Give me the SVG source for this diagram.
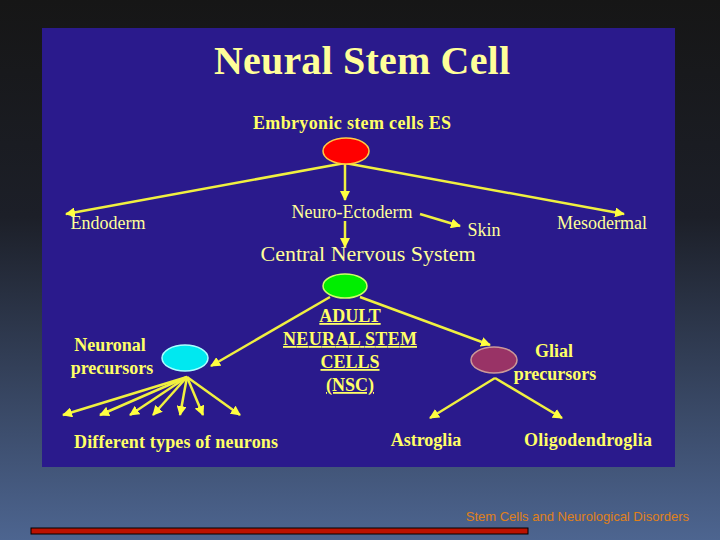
<svg xmlns="http://www.w3.org/2000/svg" width="720" height="540" viewBox="0 0 720 540">
<defs>
<linearGradient id="bg" x1="0" y1="0" x2="0" y2="1"><stop offset="0" stop-color="#161616"/><stop offset="0.4" stop-color="#1c1f28"/><stop offset="1" stop-color="#4d6590"/></linearGradient>
<marker id="ah" viewBox="0 0 10 10" refX="9" refY="5" markerWidth="4" markerHeight="4" orient="auto"><path d="M0,0L10,5L0,10z" fill="#ffff40"/></marker>
</defs>
<style>
.t{font-family:"Liberation Serif",serif;fill:#ffff66;font-weight:bold;font-size:18px}
.r{font-family:"Liberation Serif",serif;fill:#ffff99;font-size:18px}
.c line{stroke:#f0f040;stroke-width:2.5;marker-end:url(#ah)}
</style>
<rect width="720" height="540" fill="url(#bg)"/>
<rect x="42" y="28" width="633" height="439" fill="#2a1a8c"/>
<text x="362" y="74" text-anchor="middle" font-family="Liberation Serif,serif" font-weight="bold" font-size="40" fill="#ffff99" textLength="296">Neural Stem Cell</text>
<g class="c" id="connectors">
<line x1="345" y1="163" x2="66" y2="214"/>
<line x1="345" y1="163" x2="624" y2="214"/>
<line x1="345" y1="164" x2="345" y2="200"/>
<line x1="420" y1="214" x2="460" y2="226"/>
<line x1="345" y1="221" x2="345" y2="247"/>
<line x1="330" y1="297" x2="211" y2="366"/>
<line x1="360" y1="297" x2="490" y2="345"/>
<line x1="187" y1="377" x2="63" y2="415"/>
<line x1="187" y1="377" x2="100" y2="415"/>
<line x1="187" y1="377" x2="130" y2="415"/>
<line x1="187" y1="377" x2="153" y2="415"/>
<line x1="187" y1="377" x2="180" y2="415"/>
<line x1="187" y1="377" x2="203" y2="415"/>
<line x1="187" y1="377" x2="240" y2="415"/>
<line x1="495" y1="378" x2="430" y2="418"/>
<line x1="495" y1="378" x2="562" y2="418"/>
</g>
<g id="es"><text class="t" x="352" y="129" text-anchor="middle" textLength="198">Embryonic stem cells  ES</text><ellipse cx="346" cy="151" rx="23" ry="13" fill="#ff0000" stroke="#ffcc44" stroke-width="1.5"/></g>
<g id="endoderm"><text class="r" x="108" y="229" text-anchor="middle">Endoderm</text></g>
<g id="meso"><text class="r" x="602" y="229" text-anchor="middle">Mesodermal</text></g>
<g id="neuroecto"><text class="r" x="352" y="218" text-anchor="middle">Neuro-Ectoderm</text></g>
<g id="skin"><text class="r" x="484" y="236" text-anchor="middle">Skin</text></g>
<g id="cns"><text x="368" y="261" text-anchor="middle" font-family="Liberation Serif,serif" font-size="22" fill="#ffff99">Central  Nervous System</text></g>
<g id="nsc"><ellipse cx="345" cy="286" rx="22" ry="12" fill="#00ee00" stroke="#ccff66" stroke-width="1.5"/>
<g class="t" text-anchor="middle" text-decoration="underline"><text class="t" x="350" y="322">ADULT</text><text class="t" x="350" y="345" textLength="134">NEURAL STEM</text><text class="t" x="350" y="368">CELLS</text><text class="t" x="350" y="391">(NSC)</text></g></g>
<g id="neuronal"><ellipse cx="185" cy="358" rx="23" ry="13" fill="#00e8f0" stroke="#aaffff" stroke-width="1.5"/><text class="t" x="110" y="351" text-anchor="middle">Neuronal</text><text class="t" x="112" y="374" text-anchor="middle">precursors</text></g>
<g id="glial"><ellipse cx="494" cy="360" rx="23" ry="13" fill="#993366" stroke="#cc9999" stroke-width="1.5"/><text class="t" x="554" y="357" text-anchor="middle">Glial</text><text class="t" x="555" y="380" text-anchor="middle">precursors</text></g>
<g id="neurons"><text class="t" x="176" y="448" text-anchor="middle" textLength="204">Different types of neurons</text></g>
<g id="astro"><text class="t" x="426" y="446" text-anchor="middle">Astroglia</text></g>
<g id="oligo"><text class="t" x="588" y="446" text-anchor="middle" textLength="128">Oligodendroglia</text></g>
<text x="689" y="521" text-anchor="end" font-family="Liberation Sans,sans-serif" font-size="13" fill="#e0801a">Stem Cells and Neurological Disorders</text>
<rect x="31" y="528" width="497" height="6" fill="#bb1100" stroke="#000" stroke-width="1"/>
</svg>
